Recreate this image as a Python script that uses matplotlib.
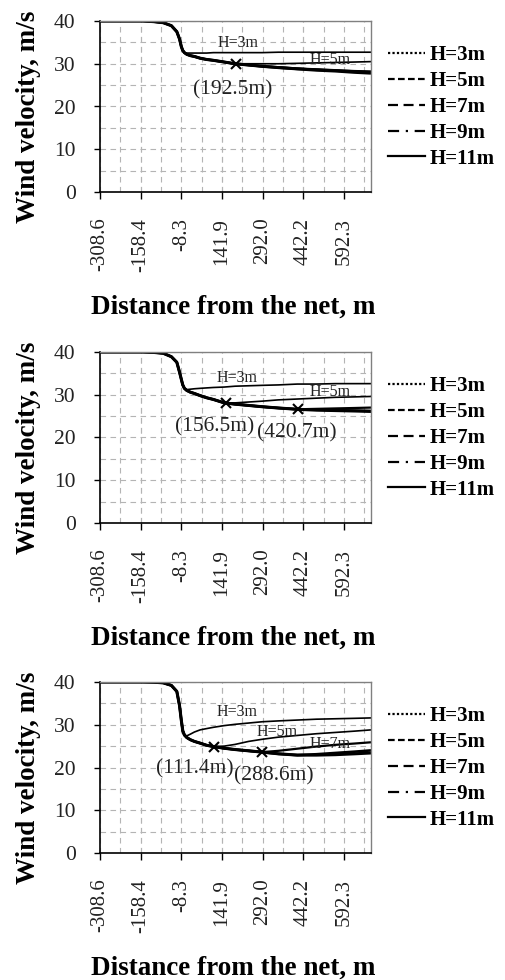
import matplotlib
matplotlib.use("Agg")
import matplotlib.pyplot as plt
from matplotlib.lines import Line2D

# ---------------------------------------------------------------
# Data

dist = [-308.6, -200, -150, -110, -75, -45, -25, -15, -8.3, -3, 3,
        12, 25, 40, 61, 85, 110, 150, 190, 240, 290, 350, 420, 490, 560, 630, 692]

x_ticklabels = ["-308.6", "-158.4", "-8.3", "141.9", "292.0", "442.2", "592.3"]
heights = ["H=3m", "H=5m", "H=7m", "H=9m", "H=11m"]

# panel 1
p1_up = [40, 40, 40, 39.85, 39.6, 38.9, 37.5, 35.8, 34.0, 33.1, 32.6]
p1_h3 = p1_up + [32.5, 32.5, 32.5, 32.5, 32.5, 32.6, 32.6, 32.6, 32.6, 32.6, 32.7, 32.7, 32.7, 32.7, 32.7, 32.7]
p1_h5 = p1_up + [32.2, 31.9, 31.7, 31.3, 31.0, 30.8, 30.4, 30.0, 30.0, 30.0, 30.0, 30.1, 30.2, 30.3, 30.4, 30.5]
p1_h7 = p1_up + [32.2, 31.9, 31.7, 31.3, 31.0, 30.8, 30.4, 30.0, 29.7, 29.4, 29.2, 28.9, 28.7, 28.5, 28.3, 28.2]
p1_h9 = p1_up + [32.2, 31.9, 31.7, 31.3, 31.0, 30.8, 30.4, 30.0, 29.7, 29.4, 29.1, 28.8, 28.6, 28.4, 28.2, 28.0]
p1_h11 = p1_up + [32.2, 31.9, 31.7, 31.3, 31.0, 30.8, 30.4, 30.0, 29.7, 29.4, 29.1, 28.8, 28.5, 28.3, 28.0, 27.8]

# panel 2
p2_up = [40, 40, 40, 39.9, 39.7, 38.9, 37.6, 35.3, 33.6, 32.3, 31.5]
p2_h3 = p2_up + [31.2, 31.3, 31.4, 31.5, 31.6, 31.7, 31.8, 32.0, 32.1, 32.2, 32.3, 32.5, 32.5, 32.6, 32.6, 32.6]
p2_h5 = p2_up + [31.0, 30.6, 30.3, 29.8, 29.3, 28.9, 28.1, 28.1, 28.3, 28.5, 28.8, 29.0, 29.2, 29.4, 29.5, 29.6]
p2_h7 = p2_up + [31.0, 30.6, 30.3, 29.8, 29.3, 28.9, 28.1, 27.8, 27.5, 27.2, 26.9, 26.6, 26.7, 26.8, 26.9, 27.0]
p2_h9 = p2_up + [31.0, 30.6, 30.3, 29.8, 29.3, 28.9, 28.1, 27.8, 27.5, 27.2, 26.9, 26.6, 26.5, 26.4, 26.3, 26.2]
p2_h11 = p2_up + [31.0, 30.6, 30.3, 29.8, 29.3, 28.9, 28.1, 27.8, 27.5, 27.2, 26.9, 26.6, 26.4, 26.3, 26.2, 26.1]

# panel 3
p3_up = [40, 40, 40, 39.95, 39.8, 39.2, 37.8, 34.5, 31.0, 28.6, 27.6]
p3_h3 = p3_up + [27.4, 27.8, 28.3, 28.8, 29.1, 29.4, 29.8, 30.1, 30.4, 30.7, 30.9, 31.1, 31.3, 31.4, 31.5, 31.6]
p3_h5 = p3_up + [27.0, 26.5, 26.1, 25.7, 25.2, 24.9, 25.0, 25.4, 26.1, 26.6, 27.1, 27.5, 27.9, 28.2, 28.5, 28.8]
p3_h7 = p3_up + [27.0, 26.5, 26.1, 25.7, 25.2, 24.9, 24.5, 24.2, 23.9, 23.6, 23.9, 24.4, 24.9, 25.3, 25.6, 25.9]
p3_h9 = p3_up + [27.0, 26.5, 26.1, 25.7, 25.2, 24.9, 24.5, 24.2, 23.9, 23.6, 23.2, 22.9, 23.1, 23.4, 23.7, 24.0]
p3_h11 = p3_up + [27.0, 26.5, 26.1, 25.7, 25.2, 24.9, 24.5, 24.2, 23.9, 23.6, 23.2, 22.9, 22.9, 23.0, 23.2, 23.4]

series = [
    [p1_h3, p1_h5, p1_h7, p1_h9, p1_h11],
    [p2_h3, p2_h5, p2_h7, p2_h9, p2_h11],
    [p3_h3, p3_h5, p3_h7, p3_h9, p3_h11],
]

# separation points (distance, velocity)
marks = [
    [(192.5, 30.0)],
    [(156.5, 28.1), (420.7, 26.6)],
    [(111.4, 24.9), (288.6, 23.6)],
]
mark_texts = [
    [("(192.5m)", 180, 24.0)],
    [("(156.5m)", 116, 22.4), ("(420.7m)", 418, 21.1)],
    [("(111.4m)", 42, 19.7), ("(288.6m)", 334, 18.1)],
]
h_texts = [
    [("H=3m", 201, 34.8), ("H=5m", 540, 30.9)],
    [("H=3m", 198, 34.0), ("H=5m", 540, 30.7)],
    [("H=3m", 198, 33.0), ("H=5m", 344, 28.4), ("H=7m", 541, 25.4)],
]

# ---------------------------------------------------------------
# Plot

plt.rcParams['font.family'] = ['Liberation Serif', 'DejaVu Serif']

W, H = 506, 980
fig = plt.figure(figsize=(W / 100, H / 100), dpi=100)

styles = [(0, (1, 1)), (0, (3, 1.5)), (0, (4.5, 2.5)), (0, (5, 3, 1, 3)), '-']
widths = [1.2, 1.2, 1.6, 1.9, 2.2]

ax_left, ax_w, ax_h = 100, 271, 171
ax_tops = [21, 352, 682]

x_major = [float(t) for t in x_ticklabels]
x_minor = [-308.6 + 75.075 * k for k in range(14)]

for i, top in enumerate(ax_tops):
    bottom = top + ax_h
    ax = fig.add_axes([ax_left / W, 1 - bottom / H, ax_w / W, ax_h / H])

    for ys, lw in zip(series[i], widths):
        ax.plot(dist, ys, color='black', lw=lw, solid_capstyle='butt')

    for (mx, my) in marks[i]:
        ax.plot(mx, my, marker='x', color='black', ms=6.5, mew=1.5)
    for (t, tx, ty) in mark_texts[i]:
        ax.text(tx, ty, t, fontsize=15.5, ha='center', va='center', color='#222222')
    for (t, tx, ty) in h_texts[i]:
        ax.text(tx, ty, t, fontsize=11.5, ha='center', va='center', color='#222222')

    ax.set_xlim(-308.6, 692)
    ax.set_ylim(0, 40)
    ax.set_xticks(x_major)
    ax.set_xticklabels(x_ticklabels, rotation=90, fontsize=15, color='#222222')
    ax.set_xticks(x_minor, minor=True)
    ax.set_yticks([0, 10, 20, 30, 40])
    ax.set_yticklabels(["0", "10", "20", "30", "40"], fontsize=15.5, color='#222222')
    ax.set_yticks([5, 15, 25, 35], minor=True)

    ax.tick_params(axis='x', which='major', direction='out', length=5, width=1, pad=13.5)
    ax.tick_params(axis='y', which='major', direction='out', length=4.5, width=1, pad=13)
    ax.tick_params(which='minor', length=0)
    ax.grid(True, which='both', color='#b4b4b4', linestyle=(0, (5, 4)), linewidth=0.8)
    ax.set_axisbelow(True)

    for s in ['left', 'bottom']:
        ax.spines[s].set_color('black')
        ax.spines[s].set_linewidth(1.2)
    for s in ['top', 'right']:
        ax.spines[s].set_color('#808080')
        ax.spines[s].set_linewidth(1.0)

    # legend
    handles = [Line2D([], [], color='black', lw=1.6, linestyle=st) for st in styles]
    ax.legend(handles, heights, loc='center left', frameon=False,
              bbox_to_anchor=(388 / W, 1 - (top + 86) / H), bbox_transform=fig.transFigure,
              prop={'weight': 'bold', 'size': 15}, handlelength=1.8, handletextpad=0.2,
              labelspacing=0.28, borderpad=0, borderaxespad=0)

    # axis titles
    fig.text(29 / W, 1 - (top + ax_h / 2 + 10) / H, "Wind velocity, m/s", rotation=90,
             ha='center', va='center', fontsize=19.5, fontweight='bold')
    fig.text(233 / W, 1 - (bottom + 115) / H, "Distance from the net, m",
             ha='center', va='center', fontsize=19.5, fontweight='bold')

plt.savefig('out.png', dpi=100)
